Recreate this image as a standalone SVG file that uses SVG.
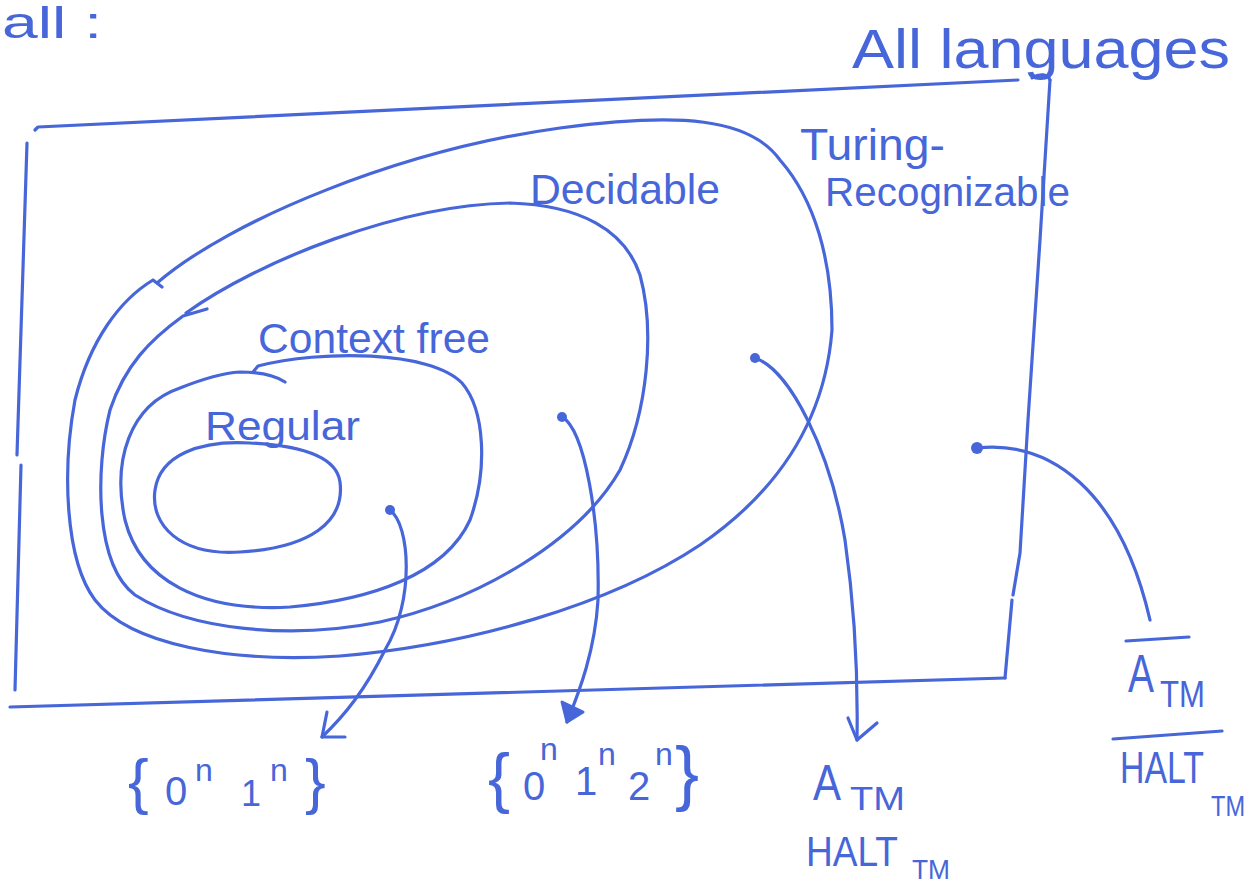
<svg xmlns="http://www.w3.org/2000/svg" width="1252" height="884" viewBox="0 0 1252 884">
<defs>
<style>
.ink{fill:none;stroke:#4766d9;stroke-width:3.2;stroke-linecap:round;stroke-linejoin:round}
.txt{fill:#4766d9;font-family:"Liberation Sans",Arial,sans-serif}
.dot{fill:#4766d9}
</style>
</defs>
<rect width="1252" height="884" fill="#ffffff"/>
<text class="txt" x="2" y="38" font-size="44" textLength="100" lengthAdjust="spacingAndGlyphs">all :</text>
<g id="all-languages">
<path class="ink" d="M35 130 L38 127 L1018 80"/>
<path class="ink" d="M1032 78 C1040 73 1048 74 1050 80"/>
<path class="ink" d="M1050 80 L1040 240 L1028 420 L1020 553 L1013 595 M1012 600 L1005 678"/>
<path class="ink" d="M10 707 L1005 678"/>
<path class="ink" d="M27 143 L17 455 M21 465 L15 690"/>
<text class="txt" x="852" y="68" font-size="56" textLength="378" lengthAdjust="spacingAndGlyphs">All languages</text>
</g>
<g id="turing-recognizable">
<path class="ink" d="M157 283 C230 220 400 150 560 128 C680 112 750 118 780 160 C815 200 832 260 832 330 C825 420 780 490 700 545 C610 605 470 645 340 656 C230 663 130 645 95 600 C65 560 62 470 75 400 C90 340 120 300 153 280 L162 287"/>
<text class="txt" x="800" y="160" font-size="44" textLength="145" lengthAdjust="spacingAndGlyphs">Turing-</text>
<text class="txt" x="825" y="206" font-size="40" textLength="245" lengthAdjust="spacingAndGlyphs">Recognizable</text>
</g>
<g id="decidable">
<path class="ink" d="M186 313 C260 260 400 205 510 203 C580 205 625 230 640 275 C655 330 648 410 620 470 C580 540 480 600 380 622 C290 640 190 630 135 595 C95 565 95 470 110 410 C125 365 150 340 183 316 L207 309"/>
<text class="txt" x="530" y="204" font-size="42" textLength="190" lengthAdjust="spacingAndGlyphs">Decidable</text>
</g>
<g id="context-free">
<path class="ink" d="M253 372 L258 366 C320 350 430 350 462 383 C485 410 488 470 470 520 C445 575 370 600 290 607 C200 612 140 580 125 520 C112 460 130 405 180 388 C205 378 225 373 240 372 C262 372 276 376 285 382"/>
<text class="txt" x="258" y="353" font-size="43" textLength="232" lengthAdjust="spacingAndGlyphs">Context free</text>
</g>
<g id="regular">
<path class="ink" d="M340 482 C345 522 310 548 240 552 C180 556 150 525 155 490 C160 455 200 440 250 443 C310 446 337 460 340 482 Z"/>
<text class="txt" x="205" y="440" font-size="40" textLength="155" lengthAdjust="spacingAndGlyphs">Regular</text>
</g>
<g id="connectors">
<circle class="dot" cx="390" cy="510" r="5"/>
<path class="ink" d="M390 510 C410 525 415 600 385 650 C365 690 345 715 322 737"/>
<path class="ink" d="M327 712 L322 737 L345 737"/>
<circle class="dot" cx="562" cy="417" r="5"/>
<path class="ink" d="M562 417 C585 430 600 520 598 600 C595 650 580 690 567 722"/>
<polygon class="dot" points="567,722 562,702 583,712" stroke="#4766d9" stroke-width="3" stroke-linejoin="round"/>
<circle class="dot" cx="755" cy="358" r="5"/>
<path class="ink" d="M755 358 C790 370 830 450 845 540 C855 610 858 680 857 740"/>
<path class="ink" d="M848 718 L857 740 L877 723"/>
<circle class="dot" cx="977" cy="448" r="6"/>
<path class="ink" d="M977 448 C1050 440 1120 490 1150 620"/>
</g>
<g id="label-0n1n">
<text class="txt" x="128" y="802" font-size="62">{</text>
<text class="txt" x="165" y="805" font-size="40">0</text>
<text class="txt" x="195" y="781" font-size="32">n</text>
<text class="txt" x="241" y="806" font-size="36">1</text>
<text class="txt" x="270" y="781" font-size="32">n</text>
<text class="txt" x="305" y="802" font-size="62">}</text>
</g>
<g id="label-0n1n2n">
<text class="txt" x="488" y="800" font-size="66">{</text>
<text class="txt" x="523" y="800" font-size="40">0</text>
<text class="txt" x="540" y="760" font-size="32">n</text>
<text class="txt" x="575" y="795" font-size="40">1</text>
<text class="txt" x="598" y="765" font-size="32">n</text>
<text class="txt" x="628" y="800" font-size="40">2</text>
<text class="txt" x="655" y="765" font-size="32">n</text>
<text class="txt" x="675" y="797" font-size="72">}</text>
</g>
<g id="label-atm">
<text class="txt" x="813" y="800" font-size="50" textLength="28" lengthAdjust="spacingAndGlyphs">A</text>
<text class="txt" x="850" y="810" font-size="34" textLength="55" lengthAdjust="spacingAndGlyphs">TM</text>
<text class="txt" x="806" y="866" font-size="42" textLength="92" lengthAdjust="spacingAndGlyphs">HALT</text>
<text class="txt" x="912" y="879" font-size="27" textLength="38" lengthAdjust="spacingAndGlyphs">TM</text>
</g>
<g id="label-complement">
<path class="ink" d="M1126 641 L1189 637"/>
<text class="txt" x="1128" y="692" font-size="54" textLength="26" lengthAdjust="spacingAndGlyphs">A</text>
<text class="txt" x="1160" y="707" font-size="36" textLength="45" lengthAdjust="spacingAndGlyphs">TM</text>
<path class="ink" d="M1113 739 L1222 731"/>
<text class="txt" x="1120" y="783" font-size="44" textLength="84" lengthAdjust="spacingAndGlyphs">HALT</text>
<text class="txt" x="1211" y="816" font-size="30" textLength="34" lengthAdjust="spacingAndGlyphs">TM</text>
</g>
</svg>
